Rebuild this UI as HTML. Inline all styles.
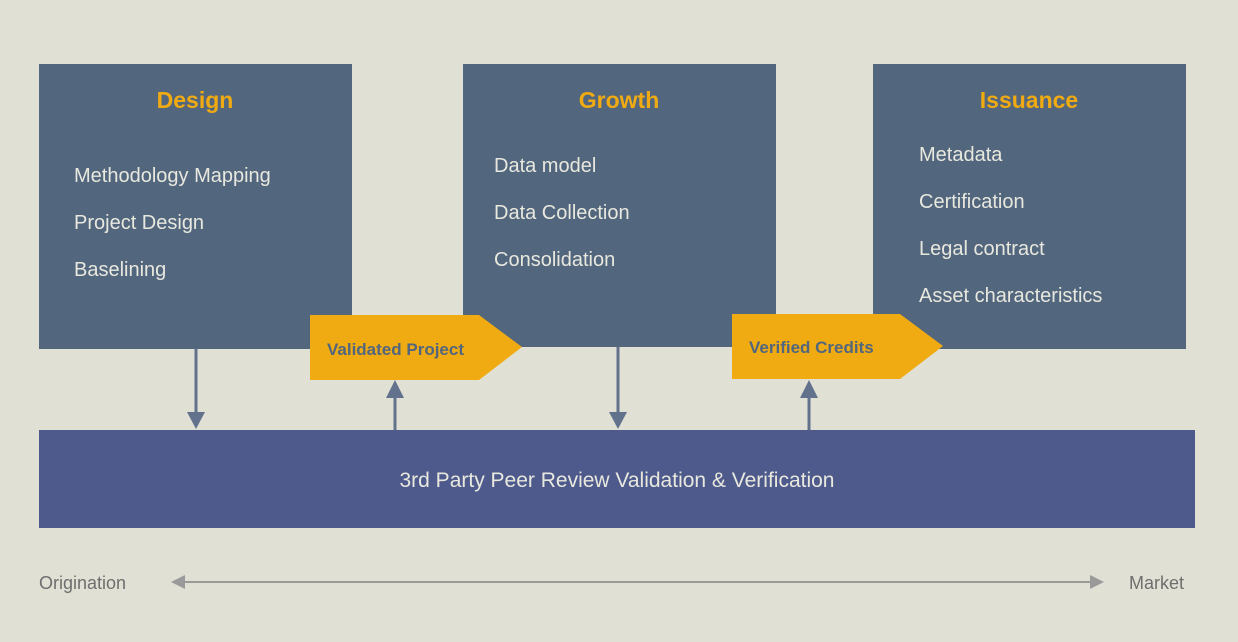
<!DOCTYPE html>
<html><head><meta charset="utf-8"><style>
html,body{margin:0;padding:0;background:#e0e0d4;}
svg{display:block;font-family:"Liberation Sans",sans-serif;}
</style></head><body>
<svg width="1238" height="642" viewBox="0 0 1238 642" xmlns="http://www.w3.org/2000/svg">
<rect width="1238" height="642" fill="#e0e0d4"/>
<rect x="39" y="64" width="313" height="285" fill="#52667e"/>
<rect x="463" y="64" width="313" height="283" fill="#52667e"/>
<rect x="873" y="64" width="313" height="285" fill="#52667e"/>
<rect x="39" y="430" width="1156" height="98" fill="#4e5a8c"/>
<g fill="#f0ab12" font-weight="bold" font-size="23" text-anchor="middle">
<text x="195" y="108">Design</text>
<text x="619" y="108">Growth</text>
<text x="1029" y="108">Issuance</text>
</g>
<g fill="#e8e8de" font-size="20">
<text x="74" y="182">Methodology Mapping</text>
<text x="74" y="229">Project Design</text>
<text x="74" y="276">Baselining</text>
<text x="494" y="172">Data model</text>
<text x="494" y="219">Data Collection</text>
<text x="494" y="266">Consolidation</text>
<text x="919" y="161">Metadata</text>
<text x="919" y="208">Certification</text>
<text x="919" y="255">Legal contract</text>
<text x="919" y="302">Asset characteristics</text>
</g>
<text x="617" y="487" fill="#e8e8de" font-size="21" text-anchor="middle">3rd Party Peer Review Validation &amp; Verification</text>
<polygon points="310,315 479,315 522,347 479,380 310,380" fill="#f0ab12"/>
<polygon points="732,314 900,314 943,346 900,379 732,379" fill="#f0ab12"/>
<g fill="#52667e" font-weight="bold" font-size="17">
<text x="327" y="355">Validated Project</text>
<text x="749" y="353">Verified Credits</text>
</g>
<g stroke="#63728c" stroke-width="3">
<line x1="196" y1="349" x2="196" y2="414"/>
<line x1="618" y1="347" x2="618" y2="414"/>
<line x1="395" y1="430" x2="395" y2="396"/>
<line x1="809" y1="430" x2="809" y2="396"/>
</g>
<g fill="#63728c">
<polygon points="187,412 205,412 196,429"/>
<polygon points="609,412 627,412 618,429"/>
<polygon points="386,398 404,398 395,380"/>
<polygon points="800,398 818,398 809,380"/>
</g>
<line x1="180" y1="582" x2="1092" y2="582" stroke="#9a9a9a" stroke-width="2"/>
<polygon points="171,582 185,575 185,589" fill="#9a9a9a"/>
<polygon points="1104,582 1090,575 1090,589" fill="#9a9a9a"/>
<g fill="#6e6e6e" font-size="18">
<text x="39" y="589">Origination</text>
<text x="1129" y="589">Market</text>
</g>
</svg>
</body></html>
